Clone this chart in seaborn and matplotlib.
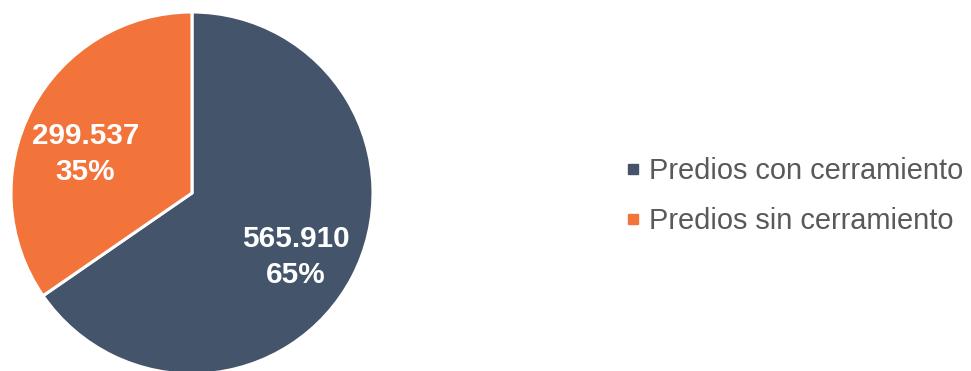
import matplotlib
matplotlib.use("Agg")
import numpy as np
import matplotlib.pyplot as plt
import seaborn as sns
from matplotlib.lines import Line2D

categories = ["Predios con cerramiento", "Predios sin cerramiento"]
values = [565910, 299537]
value_labels = ["565.910", "299.537"]
pct_labels = ["65%", "35%"]
colors = ["#44546A", "#F2743B"]

# label placement (polar: angle shift from wedge middle in degrees, radius)
label_shift = [-4.0, 7.5]
label_radius = [0.676, 0.628]

sns.set_theme(style="white")
plt.rcParams['font.family'] = ['Liberation Sans', 'DejaVu Sans']

fig = plt.figure(figsize=(9.71, 3.71), dpi=100)
ax = fig.add_axes([11 / 971, -3 / 371, 362 / 971, 362 / 371])
wedges, _ = ax.pie(values, colors=colors, startangle=90, counterclock=False,
                   wedgeprops=dict(edgecolor="white", linewidth=2.2))
ax.set_xlim(-1, 1)
ax.set_ylim(-1, 1)
ax.set_aspect("equal")
ax.axis("off")

for w, v, p, s, r in zip(wedges, value_labels, pct_labels, label_shift, label_radius):
    ang = np.deg2rad((w.theta1 + w.theta2) / 2 + s)
    ax.text(r * np.cos(ang), r * np.sin(ang), f"{v}\n{p}", ha="center", va="center",
            color="white", fontsize=21.3, fontweight="bold", linespacing=1.38)

handles = [Line2D([], [], marker="s", linestyle="none", markersize=7, color=c) for c in colors]
fig.legend(handles, categories, loc="center left", bbox_to_anchor=(624 / 971, 0.472),
           frameon=False, fontsize=20.9, labelcolor="#595959", handletextpad=0.25,
           handlelength=0.6, labelspacing=0.75, borderpad=0, borderaxespad=0)

fig.savefig("out.png", dpi=100)
